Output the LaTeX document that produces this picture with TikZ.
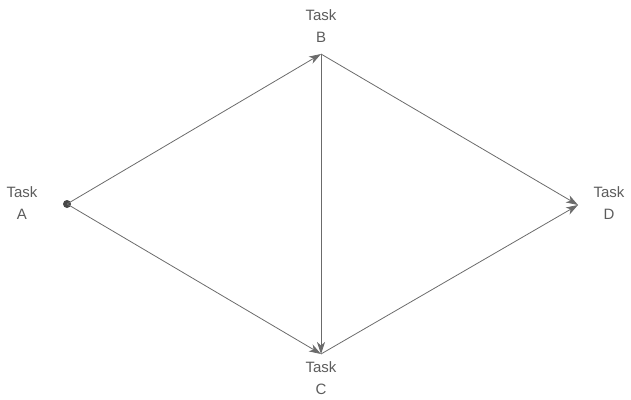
\documentclass[tikz,border=0pt]{standalone}
\usepackage{fontspec}
\setmainfont{Liberation Sans}
\usetikzlibrary{arrows.meta}
\definecolor{linegray}{gray}{0.42}
\definecolor{textgray}{gray}{0.36}
\tikzset{
  conn/.style={draw=linegray, line width=0.8pt, -{Stealth[length=12pt,width=8pt,inset=3.5pt]}},
  pt/.style={inner sep=0pt, minimum size=0pt},
  lbl/.style={text=textgray, font=\fontsize{15pt}{22.5pt}\selectfont, align=center, inner sep=0pt}
}
\begin{document}
\begin{tikzpicture}[x=1pt,y=-1pt]
\useasboundingbox (0,0) rectangle (631,399);
\node[pt] (A) at (67,204) {};
\node[pt] (B) at (321,54) {};
\node[pt] (C) at (321,354) {};
\node[pt] (D) at (578,205) {};
\fill[fill=black!72] (A) circle (4);
\node[lbl] (lA) at (22,203) {Task\\A};
\node[lbl] (lB) at (321,26) {Task\\B};
\node[lbl] (lC) at (321,378) {Task\\C};
\node[lbl] (lD) at (609,203) {Task\\D};
\draw[conn] (A.center) -- (B.center);
\draw[conn] (A.center) -- (C.center);
\draw[conn] (B.center) -- (C.center);
\draw[conn] (B.center) -- (D.center);
\draw[conn] (C.center) -- (D.center);
\end{tikzpicture}
\end{document}
